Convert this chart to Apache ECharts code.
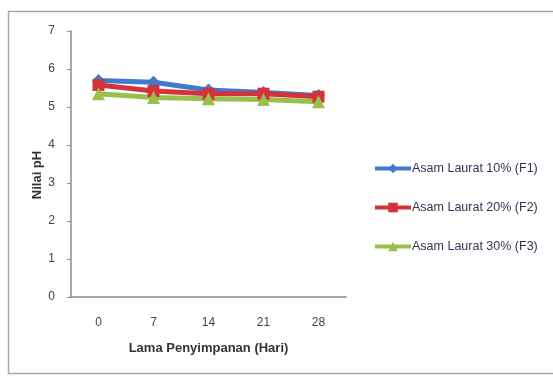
<!DOCTYPE html>
<html>
<head>
<meta charset="utf-8">
<script src="https://cdn.jsdelivr.net/npm/echarts@6/dist/echarts.min.js"></script>
<style>
  html, body { margin: 0; padding: 0; background: #fff; }
  #chart { width: 553px; height: 378px; }
</style>
</head>
<body>
<div id="chart"></div>
<script>
// Storage time in days
const days = ['0', '7', '14', '21', '28'];
// pH values per formula
const f1 = [5.70, 5.65, 5.45, 5.38, 5.30];
const f2 = [5.58, 5.42, 5.35, 5.35, 5.27];
const f3 = [5.35, 5.25, 5.22, 5.20, 5.14];
const seriesNames = ['Asam Laurat 10% (F1)', 'Asam Laurat 20% (F2)', 'Asam Laurat 30% (F3)'];
const yTicks = [0, 1, 2, 3, 4, 5, 6, 7];

const colors = ['#3e7bd0', '#d3333a', '#98c04a'];
const symbols = ['diamond', 'rect', 'triangle'];
const font = '"Liberation Sans", Arial, sans-serif';

const chart = echarts.init(document.getElementById('chart'));

function line(name, data, i) {
  return {
    name: name,
    type: 'line',
    data: data,
    symbol: symbols[i],
    symbolSize: i === 1 ? 12 : 13,
    lineStyle: { width: 5, color: colors[i] },
    itemStyle: { color: colors[i] },
    animation: false
  };
}

chart.setOption({
  backgroundColor: '#ffffff',
  textStyle: { fontFamily: font },
  graphic: [{
    type: 'rect',
    shape: { x: 8.5, y: 11.5, width: 560, height: 362 },
    style: { fill: 'none', stroke: '#a8a8a8', lineWidth: 1.5 },
    silent: true
  }],
  grid: { left: 71, right: 207, top: 31, bottom: 81 },
  legend: {
    orient: 'vertical',
    left: 368,
    top: 157,
    itemWidth: 36,
    itemHeight: 12,
    itemGap: 26,
    lineStyle: { width: 4 },
    textStyle: { fontFamily: font, fontSize: 12.5, color: '#3a3050', padding: [0, 0, 0, -4] },
    data: seriesNames
  },
  xAxis: {
    type: 'category',
    data: days,
    boundaryGap: true,
    name: 'Lama Penyimpanan (Hari)',
    nameLocation: 'middle',
    nameGap: 45,
    nameTextStyle: { fontFamily: font, fontWeight: 'bold', fontSize: 13, color: '#333' },
    axisLine: { lineStyle: { color: '#8c8c8c', width: 1.5 } },
    axisTick: { show: false },
    axisLabel: { color: '#444', fontSize: 12, margin: 20, fontFamily: font },
    splitLine: { show: false }
  },
  yAxis: {
    type: 'value',
    min: yTicks[0],
    max: yTicks[yTicks.length - 1],
    interval: 1,
    name: 'Nilai pH',
    nameLocation: 'middle',
    nameGap: 27,
    nameTextStyle: { fontFamily: font, fontWeight: 'bold', fontSize: 13, color: '#333', padding: [0, 22, 0, 0] },
    axisLine: { show: true, lineStyle: { color: '#8c8c8c', width: 1.5 } },
    axisTick: { show: true, inside: false, length: 4, lineStyle: { color: '#8c8c8c' } },
    axisLabel: { color: '#444', fontSize: 12, margin: 16, fontFamily: font },
    splitLine: { show: false }
  },
  series: [
    line(seriesNames[0], f1, 0),
    line(seriesNames[1], f2, 1),
    line(seriesNames[2], f3, 2)
  ]
});
</script>
</body>
</html>
